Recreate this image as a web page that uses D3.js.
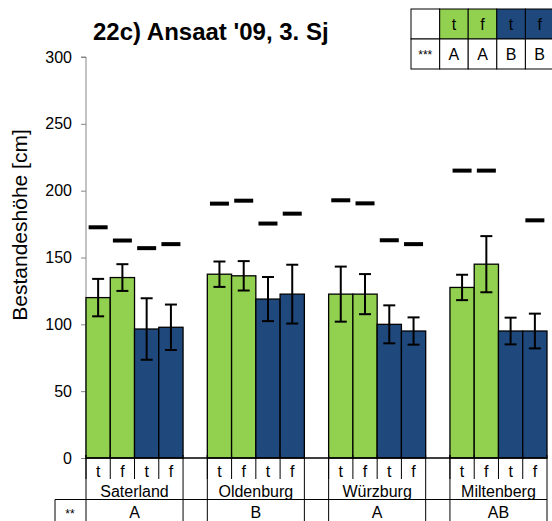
<!DOCTYPE html>
<html lang="de">
<head>
<meta charset="UTF-8">
<title>22c) Ansaat '09, 3. Sj</title>
<script src="https://cdn.jsdelivr.net/npm/d3@7"></script>
<style>
    body{ margin:0; background:#fff; }
    svg{ display:block; overflow:hidden; }
    text{ font-family: Arial, "Liberation Sans", Helvetica, sans-serif; fill:#000; }
    .axis path, .axis line{ stroke:#868686; }
    .axis text{ font-size:16px; }
    .grid line{ stroke:#000; stroke-width:1px; }
</style>
</head>
<body>
<div id="container"></div>
<script>
// data
const standorte = ["Saterland", "Oldenburg", "Würzburg", "Miltenberg"];
const varianten = ["t", "f", "t", "f"];
const gruenT = [120, 137.5, 122.6, 127.6];
const gruenF = [135, 136.3, 122.6, 145];
const blauT = [96.5, 118.9, 100, 95];
const blauF = [97.8, 122.6, 95, 95];
const fehlerGruenT = [14, 9.5, 20.6, 9.5];
const fehlerGruenF = [10, 11, 15, 21];
const fehlerBlauT = [23, 16.5, 14.2, 10];
const fehlerBlauF = [17, 22, 10.2, 13];
const strichGruenT = [172.6, 190.3, 192.8, 215];
const strichGruenF = [162.7, 192.5, 190.5, 215];
const strichBlauT = [157, 175.4, 162.9, null];
const strichBlauF = [160, 182.8, 160, 177.8];
const standortBuchstaben = ["A", "B", "A", "AB"];
const legendeBuchstaben = ["A", "A", "B", "B"];
const yTicks = [0, 50, 100, 150, 200, 250, 300];

const gruen = "#92d050", blau = "#1f497d";
const farben = [gruen, gruen, blau, blau];

const width = 552, height = 521;
const svg = d3.select("#container").append("svg")
    .attr("width", width).attr("height", height);

const yScale = d3.scaleLinear().domain([0, 300]).range([458, 57]);
// 4 bars + 1 gap per site
const xScale = d3.scaleLinear().domain([0, 19]).range([86, 547]);
const slot = xScale(1) - xScale(0);

const balken = [];
standorte.forEach((s, i) => {
    const werte = [gruenT[i], gruenF[i], blauT[i], blauF[i]];
    const fehler = [fehlerGruenT[i], fehlerGruenF[i], fehlerBlauT[i], fehlerBlauF[i]];
    const striche = [strichGruenT[i], strichGruenF[i], strichBlauT[i], strichBlauF[i]];
    werte.forEach((v, j) => {
        balken.push({ pos: i * 5 + j, wert: v, fehler: fehler[j], strich: striche[j], farbe: farben[j], variante: varianten[j] });
    });
});

// title
svg.append("text")
    .attr("x", 93).attr("y", 40)
    .style("font-size", "24px").style("font-weight", "bold")
    .text("22c) Ansaat '09, 3. Sj");

// y axis
const yAxis = d3.axisLeft(yScale).tickValues(yTicks).tickSize(5).tickPadding(9);
svg.append("g").attr("class", "axis")
    .attr("transform", "translate(86,0)")
    .call(yAxis)
    .call(g => g.select(".domain").attr("d", `M-5,${yScale(300)}H0V${yScale(0)}`));

svg.append("text")
    .attr("transform", `translate(27,225) rotate(-90)`)
    .attr("text-anchor", "middle")
    .style("font-size", "21px")
    .text("Bestandeshöhe [cm]");

// bars
svg.append("g").selectAll("rect")
    .data(balken).enter().append("rect")
    .attr("x", d => xScale(d.pos))
    .attr("y", d => yScale(d.wert))
    .attr("width", slot)
    .attr("height", d => yScale(0) - yScale(d.wert))
    .attr("fill", d => d.farbe)
    .attr("stroke", "#000")
    .attr("stroke-width", 1.3);

// x axis line
svg.append("line")
    .attr("x1", 86).attr("x2", xScale(19))
    .attr("y1", yScale(0)).attr("y2", yScale(0))
    .attr("stroke", "#000").attr("stroke-width", 1.3);

// error bars
const eb = svg.append("g").attr("stroke", "#000").attr("stroke-width", 2);
balken.forEach(d => {
    const cx = xScale(d.pos) + slot / 2;
    const y1 = yScale(d.wert + d.fehler), y2 = yScale(d.wert - d.fehler);
    eb.append("line").attr("x1", cx).attr("x2", cx).attr("y1", y1).attr("y2", y2);
    eb.append("line").attr("x1", cx - 6).attr("x2", cx + 6).attr("y1", y1).attr("y2", y1);
    eb.append("line").attr("x1", cx - 6).attr("x2", cx + 6).attr("y1", y2).attr("y2", y2);
});

// max dashes
svg.append("g").selectAll("rect")
    .data(balken.filter(d => d.strich != null)).enter().append("rect")
    .attr("x", d => xScale(d.pos) + slot / 2 - 9.5)
    .attr("y", d => yScale(d.strich) - 2)
    .attr("width", 19).attr("height", 4)
    .attr("fill", "#000");

// table under the axis
const tab = svg.append("g").attr("class", "grid");
balken.forEach(d => {
    const x0 = xScale(d.pos);
    tab.append("line").attr("x1", x0).attr("x2", x0).attr("y1", 455).attr("y2", 479);
    tab.append("text")
        .attr("x", x0 + slot / 2).attr("y", 477)
        .attr("text-anchor", "middle").style("font-size", "16px")
        .text(d.variante);
});
standorte.forEach((s, i) => {
    const a = xScale(i * 5), b = xScale(i * 5 + 4);
    tab.append("line").attr("x1", a).attr("x2", a).attr("y1", 455).attr("y2", 521);
    tab.append("line").attr("x1", b).attr("x2", b).attr("y1", 455).attr("y2", 521);
    tab.append("text")
        .attr("x", (a + b) / 2).attr("y", 497)
        .attr("text-anchor", "middle").style("font-size", "16px")
        .text(s);
    tab.append("text")
        .attr("x", (a + b) / 2).attr("y", 518)
        .attr("text-anchor", "middle").style("font-size", "16px")
        .text(standortBuchstaben[i]);
});
tab.append("line").attr("x1", 55).attr("x2", xScale(19)).attr("y1", 499.5).attr("y2", 499.5);
tab.append("line").attr("x1", 55).attr("x2", 55).attr("y1", 499.5).attr("y2", 521);
tab.append("text").attr("x", 70).attr("y", 518)
    .attr("text-anchor", "middle").style("font-size", "12px").text("**");

// legend table top right
const lx = 411, lw = 28.6, ly = 9, lh = 30;
const leg = svg.append("g");
varianten.forEach((v, j) => {
    leg.append("rect")
        .attr("x", lx + (j + 1) * lw).attr("y", ly)
        .attr("width", lw).attr("height", lh)
        .attr("fill", farben[j]).attr("stroke", "#000");
    leg.append("text")
        .attr("x", lx + (j + 1.5) * lw).attr("y", ly + 21)
        .attr("text-anchor", "middle").style("font-size", "16px")
        .text(v);
    leg.append("rect")
        .attr("x", lx + (j + 1) * lw).attr("y", ly + lh)
        .attr("width", lw).attr("height", lh)
        .attr("fill", "#fff").attr("stroke", "#000");
    leg.append("text")
        .attr("x", lx + (j + 1.5) * lw).attr("y", ly + lh + 21)
        .attr("text-anchor", "middle").style("font-size", "16px")
        .text(legendeBuchstaben[j]);
});
leg.append("rect").attr("x", lx).attr("y", ly).attr("width", lw).attr("height", lh)
    .attr("fill", "#fff").attr("stroke", "#000");
leg.append("rect").attr("x", lx).attr("y", ly + lh).attr("width", lw).attr("height", lh)
    .attr("fill", "#fff").attr("stroke", "#000");
leg.append("text").attr("x", lx + lw / 2).attr("y", ly + lh + 20)
    .attr("text-anchor", "middle").style("font-size", "12px").text("***");
</script>
</body>
</html>
